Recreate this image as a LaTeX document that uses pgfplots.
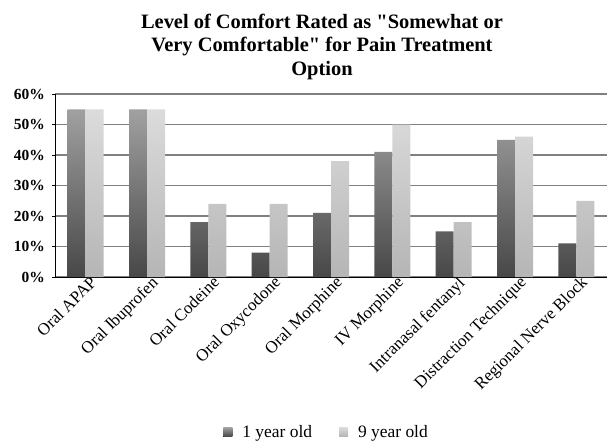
\documentclass[border=0pt]{standalone}
\usepackage{pgfplots}
\pgfplotsset{compat=1.18}
\usepackage{fontspec}
\setmainfont{Liberation Serif}
\usetikzlibrary{calc}
\begin{document}
\begin{tikzpicture}
\begin{axis}[
  name=ax,
  scale only axis,
  width=552bp, height=183bp,
  xmin=-0.5, xmax=8.5,
  ymin=0, ymax=60,
  ytick={0,10,...,60},
  yticklabel={\pgfmathprintnumber{\tick}\%},
  /pgf/number format/assume math mode=true,
  yticklabel style={font=\fontsize{15.5}{17}\selectfont\bfseries, inner sep=2pt, xshift=-5bp},
  xtick=data,
  xticklabels={Oral APAP,Oral Ibuprofen,Oral Codeine,Oral Oxycodone,Oral Morphine,IV Morphine,Intranasal fentanyl,Distraction Technique,Regional Nerve Block},
  xticklabel style={rotate=45, anchor=north east, font=\fontsize{17}{19}\selectfont, inner sep=1pt, xshift=7bp, yshift=2bp},
  x tick style={draw=none},
  y tick style={black, line width=1pt},
  tick align=outside,
  major tick length=3bp,
  axis x line*=bottom, axis y line*=left,
  axis line style={black, line width=1pt, -},
  ymajorgrids,
  grid style={black!50, line width=1.2pt},
  ybar, bar width=18bp,
  title style={font=\fontsize{20.5}{23.5}\selectfont\bfseries, align=center, yshift=5bp, xshift=-9bp},
  title={Level of Comfort Rated as \textquotedbl Somewhat or\\Very Comfortable\textquotedbl{} for Pain Treatment\\Option},
  legend style={at={(0.492,-0.847)}, anchor=center, draw=none, legend columns=2,
    font=\fontsize{17.5}{19}\selectfont, /tikz/column 2/.style={column sep=25bp}},
  legend image code/.code={\fill[#1] (0bp,-4.5bp) rectangle (9bp,4.5bp); \path (17bp,0bp);},
]
\addplot[draw=none, top color=black!37, bottom color=black!72, bar shift=-9bp] coordinates {
(0,55) (1,55) (2,18) (3,8) (4,21) (5,41) (6,15) (7,45) (8,11)};
\addplot[draw=none, top color=black!14, bottom color=black!29, bar shift=9bp] coordinates {
(0,55) (1,55) (2,24) (3,24) (4,38) (5,50) (6,18) (7,46) (8,25)};
\legend{1 year old, 9 year old}
\end{axis}
\pgfresetboundingbox
\path[use as bounding box] ($(ax.south west)+(-55bp,-168bp)$) rectangle ($(ax.north east)+(0bp,94bp)$);
\end{tikzpicture}
\end{document}
